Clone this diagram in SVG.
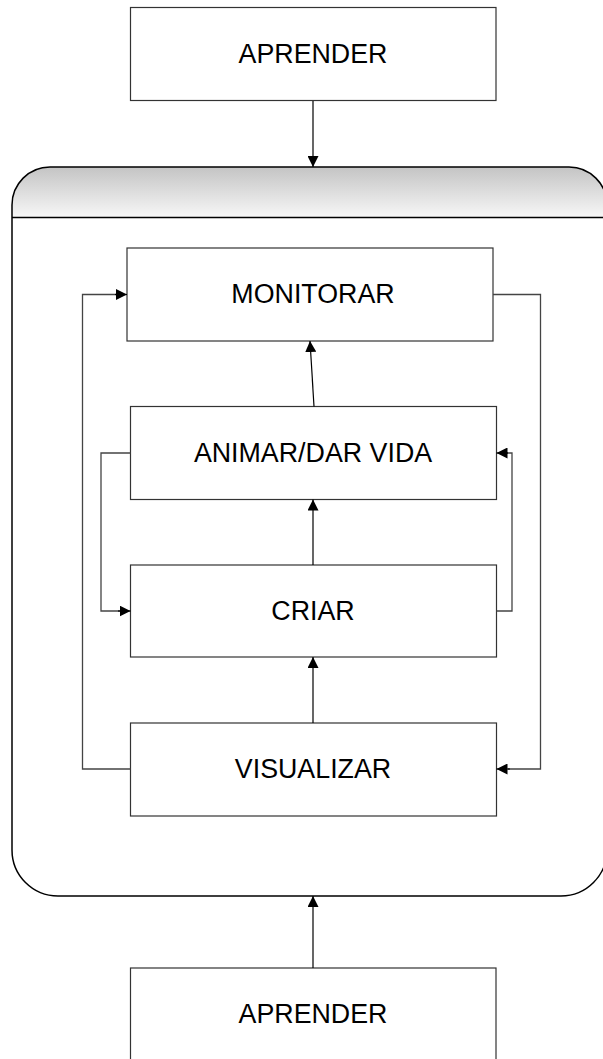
<svg xmlns="http://www.w3.org/2000/svg" width="603" height="1059" viewBox="0 0 603 1059">
<style>
.box{fill:#fff;stroke:#333;stroke-width:1.2}
.lbl{font-family:"Liberation Sans",Arial,sans-serif;font-size:26.8px;fill:#000;text-anchor:middle}
.conn{fill:none;stroke:#444;stroke-width:1.3}
.arr{fill:none;stroke:#000;stroke-width:1.2;marker-end:url(#ah)}
</style>
<defs>
<marker id="ah" viewBox="0 0 10 10" refX="10" refY="5" markerWidth="11" markerHeight="11" markerUnits="userSpaceOnUse" orient="auto">
<path d="M0,0 L10,5 L0,10 Z" fill="#000"/>
</marker>
<linearGradient id="hdr" x1="0" y1="0" x2="0" y2="1">
<stop offset="0" stop-color="#c4c4c4"/>
<stop offset="1" stop-color="#f7f7f7"/>
</linearGradient>
</defs>
<g id="container">
<path d="M12,217.5 L12,205 A38,38 0 0 1 50,167 L569,167 A38,38 0 0 1 607,205 L607,217.5 Z" fill="url(#hdr)"/>
<path d="M12,205 A38,38 0 0 1 50,167 L569,167 A38,38 0 0 1 607,205 L607,850 A46,46 0 0 1 561,896 L58,896 A46,46 0 0 1 12,850 Z" fill="none" stroke="#000" stroke-width="1.5"/>
<line x1="12" y1="217.5" x2="607" y2="217.5" stroke="#000" stroke-width="1.5"/>
</g>
<g id="aprender-top">
<rect class="box" x="130.5" y="7.5" width="365.5" height="93"/>
<text class="lbl" x="313" y="63">APRENDER</text>
</g>
<g id="monitorar">
<rect class="box" x="127" y="248" width="366" height="93"/>
<text class="lbl" x="313" y="303">MONITORAR</text>
</g>
<g id="animar">
<rect class="box" x="130.5" y="406.5" width="366" height="93"/>
<text class="lbl" x="313" y="462">ANIMAR/DAR VIDA</text>
</g>
<g id="criar">
<rect class="box" x="130.5" y="565" width="366" height="92"/>
<text class="lbl" x="313" y="620">CRIAR</text>
</g>
<g id="visualizar">
<rect class="box" x="130.5" y="723" width="366" height="93"/>
<text class="lbl" x="313" y="778">VISUALIZAR</text>
</g>
<g id="aprender-bottom">
<rect class="box" x="130.5" y="968" width="365.5" height="100"/>
<text class="lbl" x="313" y="1022.5">APRENDER</text>
</g>
<g id="connectors">
<line class="arr" x1="313" y1="101" x2="313" y2="167"/>
<line class="arr" x1="313" y1="968" x2="313" y2="896"/>
<line class="arr" x1="314" y1="406.5" x2="310" y2="341"/>
<line class="arr" x1="313" y1="565" x2="313" y2="499.5"/>
<line class="arr" x1="313" y1="723" x2="313" y2="657"/>
<polyline class="conn" points="130.5,769 82.5,769 82.5,294.5 117,294.5"/>
<line class="arr" x1="115" y1="294.5" x2="127" y2="294.5"/>
<polyline class="conn" points="493,294.5 540.5,294.5 540.5,769 508,769"/>
<line class="arr" x1="510" y1="769" x2="496.5" y2="769"/>
<polyline class="conn" points="130.5,453 101,453 101,611 120,611"/>
<line class="arr" x1="118" y1="611" x2="130.5" y2="611"/>
<polyline class="conn" points="496.5,611 512,611 512,453 506,453"/>
<line class="arr" x1="508" y1="453" x2="496.5" y2="453"/>
</g>
</svg>
